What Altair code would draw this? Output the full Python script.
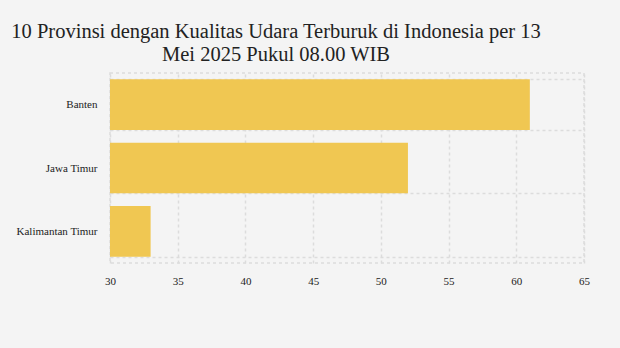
import altair as alt
import pandas as pd

provinces = ["Banten", "Jawa Timur", "Kalimantan Timur"]
values = [61, 52, 33]
x_ticks = [30, 35, 40, 45, 50, 55, 60, 65]

df = pd.DataFrame({"provinsi": provinces, "nilai": values})

grid_color = "#dcdcdc"
font = "Liberation Serif"

chart = alt.Chart(df).mark_bar(color="#f0c752", clip=True).encode(
    x=alt.X("nilai:Q", scale=alt.Scale(domain=[30, 65], nice=False, zero=False),
            axis=alt.Axis(values=x_ticks, title=None, ticks=False, domain=False,
                          labelPadding=12, labelFlush=False, grid=True, gridColor=grid_color,
                          gridDash=[3, 3], gridWidth=1.5, labelFont=font,
                          labelFontSize=11, labelColor="#222")),
    y=alt.Y("provinsi:N", sort=provinces, scale=alt.Scale(paddingInner=0.2, paddingOuter=0.1),
            axis=alt.Axis(title=None, grid=True, tickBand="extent", domain=False,
                          ticks=False, labelPadding=13,
                          gridColor=grid_color, gridDash=[3, 3], gridWidth=1.5,
                          labelFont=font, labelFontSize=11, labelColor="#222",
                          minExtent=105, maxExtent=105)),
).properties(
    width=620,
    height=348,
    autosize=alt.AutoSizeParams(type="fit", contains="padding"),
    background="#f4f4f4",
    padding={"left": 5, "top": 21, "right": 30, "bottom": 62},
    title=alt.TitleParams(
        text=["10 Provinsi dengan Kualitas Udara Terburuk di Indonesia per 13",
              "Mei 2025 Pukul 08.00 WIB"],
        font=font, fontSize=20.5, fontWeight="normal", color="#222",
        anchor="start", align="center", frame="group", lineHeight=23, offset=2, dx=166,
    ),
).configure_view(stroke=grid_color, strokeDash=[3, 3], strokeWidth=1.5)

chart.save("out.html", embed_options={"renderer": "svg", "actions": False})
